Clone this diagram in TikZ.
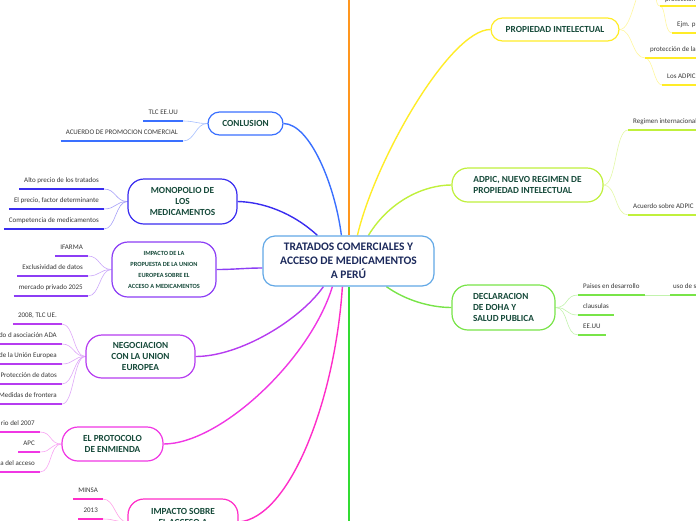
\documentclass[tikz,border=0pt]{standalone}
\usepackage{fontspec}
\setmainfont{Carlito}
\usetikzlibrary{calc,backgrounds}
\definecolor{ctrB}{RGB}{98,168,230}
\definecolor{ctrT}{RGB}{28,42,92}
\definecolor{nodeT}{RGB}{22,74,58}
\definecolor{leafT}{RGB}{55,55,55}
\definecolor{cBlue}{RGB}{58,112,255}
\definecolor{cIndigo}{RGB}{58,45,240}
\definecolor{cViolet}{RGB}{140,62,245}
\definecolor{cPurple}{RGB}{182,60,240}
\definecolor{cMagenta}{RGB}{240,55,228}
\definecolor{cPink}{RGB}{255,45,200}
\definecolor{cOrange}{RGB}{255,150,30}
\definecolor{cYellow}{RGB}{255,236,40}
\definecolor{cLime}{RGB}{192,240,60}
\definecolor{cGreen}{RGB}{120,228,72}
\definecolor{cGreenB}{RGB}{50,220,50}
\begin{document}
\begin{tikzpicture}[x=1pt,y=-1pt,
  mnode/.style={draw=#1, line width=1.2pt, fill=white, text=nodeT, align=center, inner sep=0pt, font=\bfseries\fontsize{9.3}{11}\selectfont},
  mainln/.style={draw=#1, line width=1.4pt},
  subln/.style={draw=#1!45!white, line width=0.6pt},
  uln/.style={draw=#1, line width=1.8pt},
  leafL/.style={anchor=south east, font=\fontsize{7}{8}\selectfont, text=leafT, inner xsep=5pt, inner ysep=4.5pt, text height=5pt, text depth=2pt},
  leafR/.style={leafL, anchor=south west}]
\useasboundingbox (0,0) rectangle (696,520);

% ---- main nodes
\node[draw=ctrB, line width=1.2pt, fill=white, rounded corners=12pt, minimum width=171pt, minimum height=50pt, align=center, inner sep=0pt, text=ctrT, font=\bfseries\fontsize{11.5}{14}\selectfont] (ctr) at (348.5,261) {TRATADOS COMERCIALES Y\\ACCESO DE MEDICAMENTOS\\A PERÚ};
\node[mnode=cBlue, rounded corners=11.5pt, minimum width=75pt, minimum height=23pt] (c1) at (245.5,123.5) {CONLUSION};
\node[mnode=cIndigo, rounded corners=16pt, minimum width=109pt, minimum height=45pt] (mo) at (182.5,201.5) {MONOPOLIO DE\\LOS\\MEDICAMENTOS};
\node[mnode=cViolet, rounded corners=16pt, minimum width=104pt, minimum height=55pt, font=\bfseries\fontsize{6.3}{11}\selectfont] (iu) at (164,269.5) {IMPACTO DE LA\\PROPUESTA DE LA UNION\\EUROPEA SOBRE EL\\ACCESO A MEDICAMENTOS};
\node[mnode=cPurple, rounded corners=16pt, minimum width=109pt, minimum height=43pt] (ng) at (140.5,356.5) {NEGOCIACION\\CON LA UNION\\EUROPEA};
\node[mnode=cMagenta, rounded corners=16pt, minimum width=101pt, minimum height=34pt] (pr) at (112.5,444) {EL PROTOCOLO\\DE ENMIENDA};
\node[mnode=cPink, rounded corners=16pt, minimum width=110pt, minimum height=46pt] (is) at (183,522) {IMPACTO SOBRE\\EL ACCESO A\\\mbox{}};
\node[mnode=cYellow, rounded corners=11.5pt, minimum width=128pt, minimum height=23pt] (pi) at (555,29.5) {PROPIEDAD INTELECTUAL};
\node[mnode=cLime, rounded corners=16pt, minimum width=151pt, minimum height=34pt, align=left] (ad) at (527.5,185) {ADPIC, NUEVO REGIMEN DE\\PROPIEDAD INTELECTUAL};
\node[mnode=cGreen, rounded corners=16pt, minimum width=103pt, minimum height=45pt, align=left] (dh) at (503.5,307.5) {DECLARACION\\DE DOHA Y\\SALUD PUBLICA};

% ---- leaves (left side)
\node[leafL] (c1a) at (183,121) {TLC EE.UU};
\node[leafL] (c1b) at (183,141) {ACUERDO DE PROMOCION COMERCIAL};
\node[leafL] (moa) at (104,189) {Alto precio de los tratados};
\node[leafL] (mob) at (104,209) {El precio, factor determinante};
\node[leafL] (moc) at (104,229) {Competencia de medicamentos};
\node[leafL] (iua) at (88,256) {IFARMA};
\node[leafL] (iub) at (88,276) {Exclusividad de datos};
\node[leafL] (iuc) at (88,296) {mercado privado 2025};
\node[leafL] (nga) at (62,324) {2008, TLC UE.};
\node[leafL] (ngb) at (62,344) {do d asociación ADA};
\node[leafL] (ngc) at (62,364) {de la Unión Europea};
\node[leafL] (ngd) at (62,384) {Protección de datos};
\node[leafL] (nge) at (62,404) {Medidas de frontera};
\node[leafL] (pra) at (40,432) {rio del 2007};
\node[leafL] (prb) at (40,452) {APC};
\node[leafL] (prc) at (40,472) {a del acceso};
\node[leafL] (isa) at (103,499) {MINSA};
\node[leafL] (isb) at (103,519) {2013};

% ---- leaves (right side)
\node[leafR, inner ysep=2pt] (pia) at (660,6) {protección n};
\node[leafR] (pib) at (672,33) {Ejm. p};
\node[leafR] (pic) at (645,58) {protección de la};
\node[leafR] (pid) at (662,85) {Los ADPIC};
\node[leafR] (ada) at (628,130) {Regimen internacional};
\node[leafR] (adb) at (628,215) {Acuerdo sobre ADPIC};
\node[leafR] (dha) at (578,295) {Paises en desarrollo};
\node[leafR] (dhb) at (578,315) {clausulas};
\node[leafR] (dhc) at (578,335) {EE.UU};
\node[leafR, inner xsep=3pt] (dhd) at (670,295) {uso de s};

\coordinate (piA) at (645,-14);
\coordinate (piB) at (652,-12);

\begin{scope}[on background layer]
% main branches
\draw[cOrange, line width=2pt] ($(ctr.north)+(0.5,0)$) -- ++(0,-245);
\draw[cGreenB, line width=2pt] ($(ctr.south)+(0.5,0)$) -- ++(0,245);
\draw[mainln=cBlue] ($(ctr.north west)+(79,0)$) .. controls (335,185) and (310,124) .. (c1.east);
\draw[mainln=cIndigo] ($(ctr.north west)+(55,0)$) .. controls (292,212) and (262,202) .. (mo.east);
\draw[mainln=cViolet] ($(ctr.west)+(0,7)$) .. controls (245,268) and (235,269.5) .. (iu.east);
\draw[mainln=cPurple] ($(ctr.south west)+(61,0)$) .. controls (300,320) and (240,356.5) .. (ng.east);
\draw[mainln=cMagenta] ($(ctr.south west)+(70,0)$) .. controls (310,360) and (220,444) .. (pr.east);
\draw[mainln=cPink] ($(ctr.south west)+(80,0)$) .. controls (335,400) and (290,518) .. (is.east);
\draw[mainln=cYellow] ($(ctr.north west)+(95,0)$) .. controls (375,160) and (450,29.5) .. (pi.west);
\draw[mainln=cLime] ($(ctr.north west)+(106,0)$) .. controls (390,200) and (425,185) .. (ad.west);
\draw[mainln=cGreen] ($(ctr.south west)+(124,0)$) .. controls (405,300) and (430,307.5) .. (dh.west);

% left sub-branches
\foreach \p/\l/\c in {c1/c1a/cBlue, c1/c1b/cBlue, mo/moa/cIndigo, mo/mob/cIndigo, mo/moc/cIndigo,
  iu/iua/cViolet, iu/iub/cViolet, iu/iuc/cViolet,
  ng/nga/cPurple, ng/ngb/cPurple, ng/ngc/cPurple, ng/ngd/cPurple, ng/nge/cPurple,
  pr/pra/cMagenta, pr/prb/cMagenta, pr/prc/cMagenta, is/isa/cPink, is/isb/cPink}{
  \draw[subln=\c] (\p.west) .. controls +(-12,0) and +(12,0) .. (\l.south east);
}
% right sub-branches
\foreach \p/\l/\c in {ad/ada/cLime, ad/adb/cLime, dh/dha/cGreen, dh/dhb/cGreen, dh/dhc/cGreen, pi/pic/cYellow}{
  \draw[subln=\c] (\p.east) .. controls +(13,0) and +(-13,0) .. (\l.south west);
}
\draw[subln=cYellow] (pi.east) .. controls +(13,0) and +(-10,0) .. (piA);
\draw[subln=cYellow] (piB) .. controls (658,-12) and (654,6) .. (pia.south west);
\draw[subln=cYellow] (pia.south west) .. controls +(6,0) and +(-8,0) .. (pib.south west);
\draw[subln=cYellow] (pic.south west) .. controls +(8,0) and +(-8,0) .. (pid.south west);
\draw[subln=cGreen] (dha.south east) .. controls +(12,0) and +(-12,0) .. (dhd.south west);
\end{scope}

% underlines
\foreach \l/\c in {c1a/cBlue, c1b/cBlue, moa/cIndigo, mob/cIndigo, moc/cIndigo,
  iua/cViolet, iub/cViolet, iuc/cViolet, nga/cPurple, prb/cMagenta, isa/cPink, isb/cPink,
  ada/cLime, adb/cLime, dhb/cGreen, dhc/cGreen, dha/cGreen, pid/cYellow}{
  \draw[uln=\c] (\l.south west) -- (\l.south east);
}
\foreach \l/\c in {ngb/cPurple, ngc/cPurple, ngd/cPurple, nge/cPurple, pra/cMagenta, prc/cMagenta}{
  \draw[uln=\c] (\l.south east) -- ++(-80,0);
}
\foreach \l/\c in {pia/cYellow, pib/cYellow, pic/cYellow, dhd/cGreen, ada/cLime}{
  \draw[uln=\c] (\l.south west) -- ++(80,0);
}
\end{tikzpicture}
\end{document}
